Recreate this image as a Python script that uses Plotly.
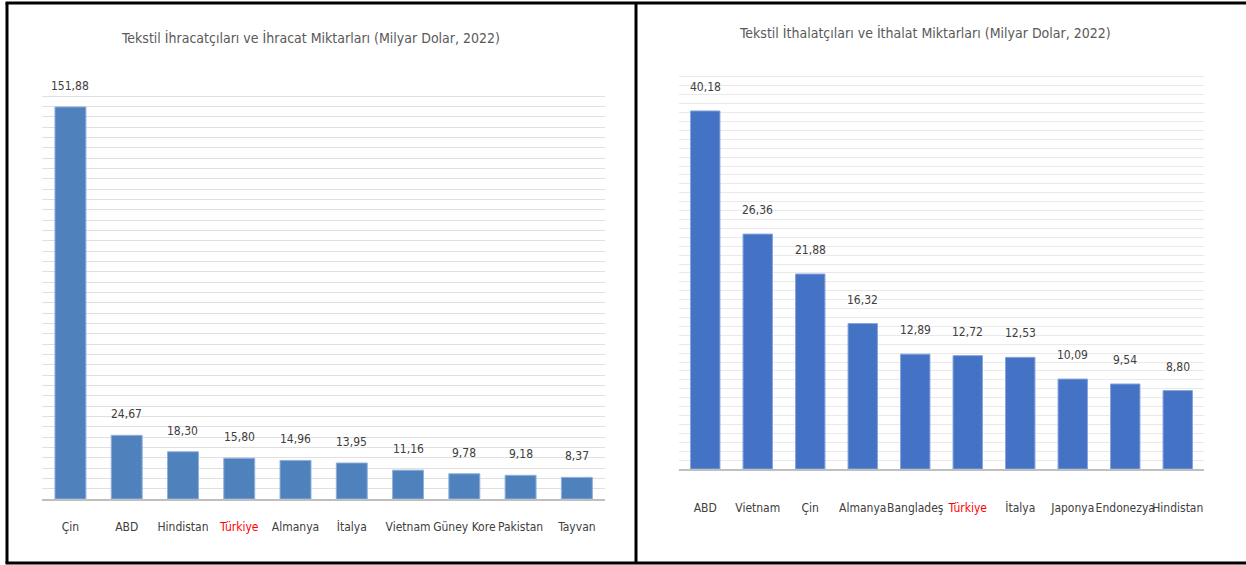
import plotly.graph_objects as go

W, H = 1246, 565

exp_countries = ["Çin", "ABD", "Hindistan", "Türkiye", "Almanya", "İtalya", "Vietnam", "Güney Kore", "Pakistan", "Tayvan"]
exp_values = [151.88, 24.67, 18.30, 15.80, 14.96, 13.95, 11.16, 9.78, 9.18, 8.37]

imp_countries = ["ABD", "Vietnam", "Çin", "Almanya", "Bangladeş", "Türkiye", "İtalya", "Japonya", "Endonezya", "Hindistan"]
imp_values = [40.18, 26.36, 21.88, 16.32, 12.89, 12.72, 12.53, 10.09, 9.54, 8.80]

exp_title = "Tekstil İhracatçıları ve İhracat Miktarları (Milyar Dolar, 2022)"
imp_title = "Tekstil İthalatçıları ve İthalat Miktarları (Milyar Dolar, 2022)"

FONT = "DejaVu Sans Condensed, Liberation Sans Narrow, Liberation Sans, sans-serif"
TXT = "#404040"


def fmt(v):
    return f"{v:.2f}".replace(".", ",")


def tick_text(names):
    return [f"<span style='color:#ff0000'>{n}</span>" if n == "Türkiye" else n for n in names]


fig = go.Figure()
fig.add_trace(go.Bar(x=exp_countries, y=exp_values, xaxis="x", yaxis="y",
                     marker=dict(color="#4f81bd", line=dict(color="#8fb0dc", width=1)),
                     width=0.55, hoverinfo="x+y"))
fig.add_trace(go.Bar(x=imp_countries, y=imp_values, xaxis="x2", yaxis="y2",
                     marker=dict(color="#4472c4", line=dict(color="#86a3dc", width=1)),
                     width=0.56, hoverinfo="x+y"))

annotations = []
for c, v in zip(exp_countries, exp_values):
    annotations.append(dict(x=c, y=v, xref="x", yref="y", text=fmt(v), showarrow=False,
                            yshift=21, font=dict(family=FONT, size=12, color=TXT)))
for c, v in zip(imp_countries, imp_values):
    annotations.append(dict(x=c, y=v, xref="x2", yref="y2", text=fmt(v), showarrow=False,
                            yshift=24, font=dict(family=FONT, size=12, color=TXT)))

annotations.append(dict(x=310 / W, y=1 - 38 / H, xref="paper", yref="paper", text=exp_title,
                        xanchor="center", yanchor="middle",
                        showarrow=False, font=dict(family=FONT, size=14, color="#595959")))
annotations.append(dict(x=925 / W, y=1 - 33 / H, xref="paper", yref="paper", text=imp_title,
                        xanchor="center", yanchor="middle",
                        showarrow=False, font=dict(family=FONT, size=14, color="#595959")))

shapes = [
    dict(type="line", xref="paper", yref="paper", x0=7 / W, x1=7 / W, y0=1 - 3 / H, y1=1 - 563 / H,
         line=dict(color="black", width=3)),
    dict(type="line", xref="paper", yref="paper", x0=636 / W, x1=636 / W, y0=1 - 3 / H, y1=1 - 563 / H,
         line=dict(color="black", width=3)),
    dict(type="line", xref="paper", yref="paper", x0=5.5 / W, x1=1, y0=1 - 3 / H, y1=1 - 3 / H,
         line=dict(color="black", width=3)),
    dict(type="line", xref="paper", yref="paper", x0=5.5 / W, x1=1, y0=1 - 563 / H, y1=1 - 563 / H,
         line=dict(color="black", width=3)),
]

fig.update_layout(
    width=W, height=H,
    margin=dict(l=0, r=0, t=0, b=0),
    paper_bgcolor="white", plot_bgcolor="white",
    showlegend=False,
    annotations=annotations,
    shapes=shapes,
    font=dict(family=FONT, size=12, color=TXT),
    xaxis=dict(domain=[42.3 / W, 605 / W], anchor="y", type="category",
               tickmode="array", tickvals=exp_countries, ticktext=tick_text(exp_countries),
               tickangle=0,
               showline=True, linecolor="#bfbfbf", linewidth=2, ticks="", ticklabelstandoff=16,
               tickfont=dict(family=FONT, size=12, color=TXT), fixedrange=True),
    yaxis=dict(domain=[1 - 499 / H, 1 - 86 / H], anchor="x", range=[0, 160], dtick=4,
               showticklabels=False, showgrid=True, gridcolor="#e0e0e0", gridwidth=1,
               zeroline=False, fixedrange=True),
    xaxis2=dict(domain=[679 / W, 1204 / W], anchor="y2", type="category",
                tickmode="array", tickvals=imp_countries, ticktext=tick_text(imp_countries),
                tickangle=0,
                showline=True, linecolor="#bfbfbf", linewidth=2, ticks="", ticklabelstandoff=27,
                tickfont=dict(family=FONT, size=12, color=TXT), fixedrange=True),
    yaxis2=dict(domain=[1 - 469 / H, 1 - 68 / H], anchor="x2", range=[0, 45], dtick=1,
                showticklabels=False, showgrid=True, gridcolor="#e9e9e9", gridwidth=1,
                zeroline=False, fixedrange=True),
)

fig.write_html("out.html", config={"displayModeBar": False},
               post_script="document.body.style.margin='0';document.body.style.overflow='hidden';")
